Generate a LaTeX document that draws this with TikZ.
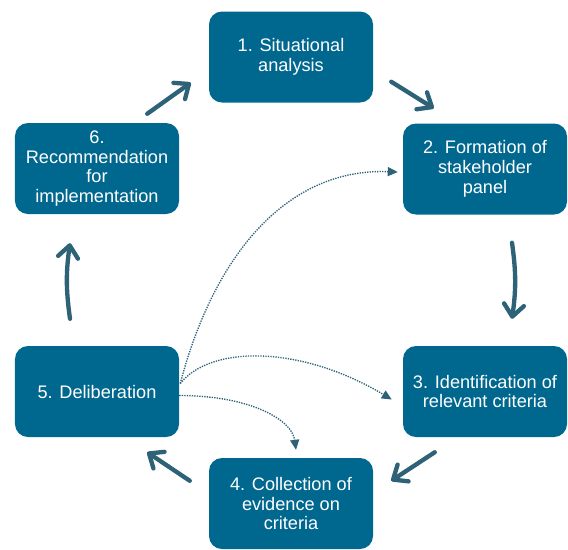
\documentclass[tikz,border=0pt]{standalone}
\usepackage{fontspec}
\setmainfont{Liberation Sans}
\usetikzlibrary{arrows.meta}
\definecolor{boxblue}{RGB}{0,104,143}
\definecolor{arrowslate}{RGB}{46,99,119}

\begin{document}
\begin{tikzpicture}[x=0.03cm, y=-0.03cm,
    stage/.style={rectangle, rounded corners=0.39cm, fill=boxblue, text=white, minimum width=4.92cm, minimum height=2.73cm, align=center, inner sep=2pt, font=\fontsize{15.5}{17}\selectfont},
    cyclearrow/.style={arrowslate, line width=0.13cm, line cap=round, -{Straight Barb[length=0.36cm, width=0.6cm, line cap=round, line join=round]}},
    linkarrow/.style={arrowslate, line width=0.04cm, densely dotted, -{Triangle[length=0.3cm, width=0.27cm]}}]
                \useasboundingbox (0,0) rectangle (568,549);
                \node[stage] (b1) at (291,57) {1. Situational\\analysis};
                \node[stage] (b2) at (485,169) {2. Formation of\\stakeholder\\panel};
                \node[stage] (b3) at (485,391.5) {3. Identification of\\relevant criteria};
                \node[stage] (b4) at (291,503.5) {4. Collection of\\evidence on\\criteria};
                \node[stage] (b5) at (97,391.5) {5. Deliberation};
                \node[stage] (b6) at (97,168.5) {6.\\Recommendation\\for\\implementation};
                % main cycle
                \draw[cyclearrow] ([shift={(-32,-9)}]b6.north east) -- ([shift={(-18,-20)}]b1.south west);
                \draw[cyclearrow] ([shift={(18,-21)}]b1.south east) -- ([shift={(31,-15)}]b2.north west);
                \draw[cyclearrow] ([shift={(27,28)}]b2.south) to[bend left=8] ([shift={(27,-27)}]b3.north);
                \draw[cyclearrow] ([shift={(32,15)}]b3.south west) -- ([shift={(18,23)}]b4.north east);
                \draw[cyclearrow] ([shift={(-19,23)}]b4.north west) -- ([shift={(-32,15)}]b5.south east);
                \draw[cyclearrow] ([shift={(-27,-27)}]b5.north) to[bend left=8] ([shift={(-27,29)}]b6.south);
                % feedback from deliberation
                \draw[linkarrow] ([shift={(1,-8)}]b5.east) .. controls +(35,-133) and +(-108,-4) .. ([shift={(-5,3)}]b2.west);
                \draw[linkarrow] ([shift={(1,-8)}]b5.east) .. controls +(30,-38) and +(-92,-55) .. ([shift={(-11,8)}]b3.west);
                \draw[linkarrow] ([shift={(0,4)}]b5.east) .. controls +(71,0) and +(-4,-30) .. ([shift={(5,-8)}]b4.north);
\end{tikzpicture}
\end{document}
